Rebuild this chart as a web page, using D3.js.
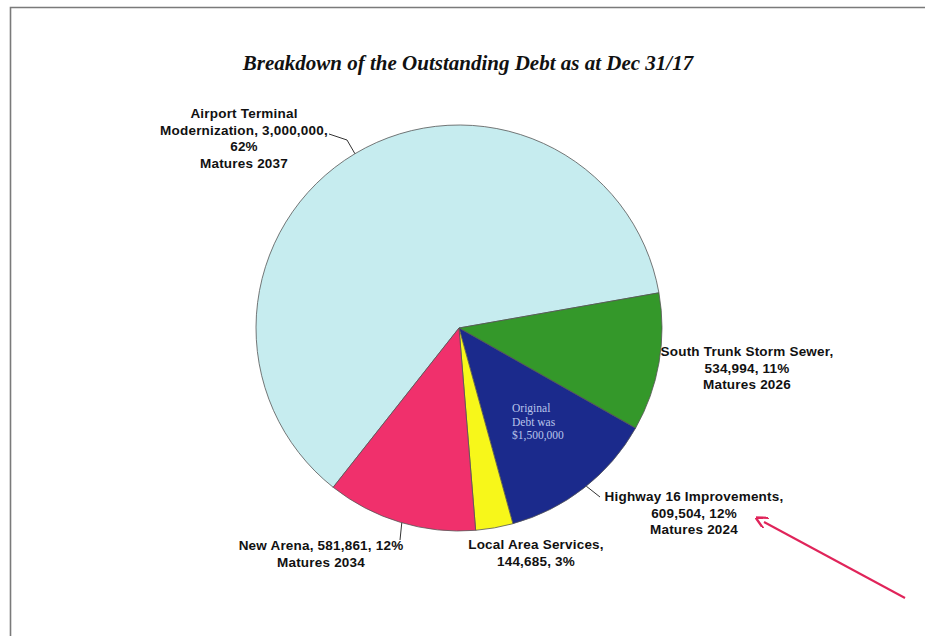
<!DOCTYPE html>
<html>
<head>
<meta charset="utf-8">
<script src="https://cdn.jsdelivr.net/npm/d3@7"></script>
<style>
  html, body { margin: 0; padding: 0; background: #fff; }
  svg { display: block; }
</style>
</head>
<body>
<svg id="chart" width="925" height="636"></svg>
<script>
// Outstanding debt by project (dollars), in drawing order
const categories = ["Airport Terminal Modernization", "South Trunk Storm Sewer", "Highway 16 Improvements", "Local Area Services", "New Arena"];
const values = [3000000, 534994, 609504, 144685, 581861];
const percents = ["62%", "11%", "12%", "3%", "12%"];
const maturities = ["Matures 2037", "Matures 2026", "Matures 2024", "", "Matures 2034"];
const colors = ["#c6ecef", "#34982a", "#1b2a8c", "#f7f71a", "#f0306c"];

const fmt = d3.format(",");

// Label text for each slice, split into lines
const labelLines = [
  ["Airport Terminal", `Modernization, ${fmt(values[0])},`, percents[0], maturities[0]],
  [`${categories[1]},`, `${fmt(values[1])}, ${percents[1]}`, maturities[1]],
  [`${categories[2]},`, `${fmt(values[2])}, ${percents[2]}`, maturities[2]],
  [`${categories[3]},`, `${fmt(values[3])}, ${percents[3]}`],
  [`${categories[4]}, ${fmt(values[4])}, ${percents[4]}`, maturities[4]]
];
const labelPos = [
  { x: 244, y: 118 },
  { x: 747, y: 356 },
  { x: 694, y: 501 },
  { x: 536, y: 549 },
  { x: 321, y: 550 }
];
// Leader lines: from a point on the slice edge to the label
const leaders = [
  { frac: 0.50, pts: [[347, 140], [329, 134]] },
  null,
  { frac: 0.48, pts: [[600, 497]] },
  null,
  { frac: 0.49, pts: [[400, 540]] }
];

const svg = d3.select("#chart");

// Outer frame
svg.append("path")
  .attr("d", "M10.5,636 L10.5,7.5 L925,7.5")
  .attr("fill", "none")
  .attr("stroke", "#7a7a7a")
  .attr("stroke-width", 1.6);

// Title
svg.append("text")
  .attr("x", 468).attr("y", 70)
  .attr("text-anchor", "middle")
  .attr("font-family", "'Liberation Serif', 'Times New Roman', serif")
  .attr("font-style", "italic")
  .attr("font-weight", "bold")
  .attr("font-size", 21)
  .attr("fill", "#111")
  .text("Breakdown of the Outstanding Debt as at Dec 31/17");

const cx = 459, cy = 328, r = 203;
const start = -141.7 * Math.PI / 180;

const pie = d3.pie().sort(null).value(d => d)
  .startAngle(start).endAngle(start + 2 * Math.PI);
const arcs = pie(values);
const arc = d3.arc().innerRadius(0).outerRadius(r);

const g = svg.append("g").attr("transform", `translate(${cx},${cy})`);
g.selectAll("path.slice")
  .data(arcs)
  .join("path")
  .attr("class", "slice")
  .attr("d", arc)
  .attr("fill", (d, i) => colors[i])
  .attr("stroke", "#555")
  .attr("stroke-width", 0.8);

// Note inside the highway slice
const note = ["Original", "Debt was", "$1,500,000"];
svg.append("g").selectAll("text")
  .data(note)
  .join("text")
  .attr("x", 512)
  .attr("y", (d, i) => 412 + i * 13.5)
  .attr("font-family", "'Liberation Serif', 'Times New Roman', serif")
  .attr("font-size", 11.5)
  .attr("fill", "#b9c4ea")
  .text(d => d);

// Leader lines
leaders.forEach((l, i) => {
  if (!l) return;
  const a = arcs[i];
  const ang = a.startAngle + (a.endAngle - a.startAngle) * l.frac;
  const p0 = [cx + r * Math.sin(ang), cy - r * Math.cos(ang)];
  svg.append("polyline")
    .attr("points", [p0, ...l.pts].map(p => p.join(",")).join(" "))
    .attr("fill", "none")
    .attr("stroke", "#333")
    .attr("stroke-width", 1);
});

// Slice labels
labelLines.forEach((lines, i) => {
  svg.append("text")
    .attr("text-anchor", "middle")
    .attr("font-family", "'Liberation Sans', Arial, sans-serif")
    .attr("font-weight", "bold")
    .attr("font-size", 13.5)
    .attr("letter-spacing", 0.2)
    .attr("fill", "#111")
    .selectAll("tspan")
    .data(lines)
    .join("tspan")
    .attr("x", labelPos[i].x)
    .attr("y", (d, j) => labelPos[i].y + j * 16.5)
    .text(d => d);
});

// Pointer arrow toward the highway label
const defs = svg.append("defs");
defs.append("marker")
  .attr("id", "head")
  .attr("viewBox", "0 0 10 10")
  .attr("refX", 2).attr("refY", 5)
  .attr("markerWidth", 6).attr("markerHeight", 6)
  .attr("orient", "auto-start-reverse")
  .append("path")
  .attr("d", "M0,0 L10,5 L0,10")
  .attr("fill", "none")
  .attr("stroke", "#e0245a")
  .attr("stroke-width", 2);
svg.append("line")
  .attr("x1", 905).attr("y1", 598)
  .attr("x2", 764).attr("y2", 522)
  .attr("stroke", "#e0245a")
  .attr("stroke-width", 2)
  .attr("marker-end", "url(#head)");
</script>
</body>
</html>
